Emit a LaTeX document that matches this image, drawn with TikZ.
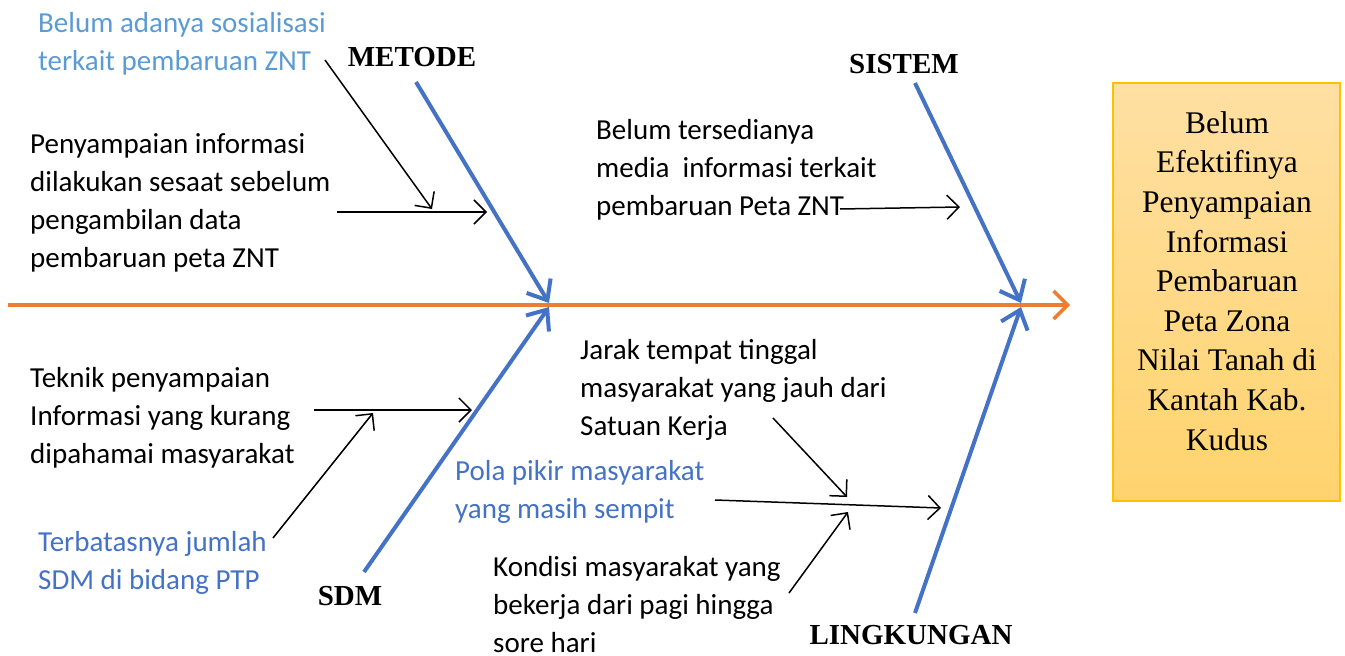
\documentclass[tikz,border=0pt]{standalone}
\usepackage{fontspec}
\setmainfont{Liberation Serif}
\newfontfamily\calfont{Carlito}
\usetikzlibrary{arrows.meta}
\definecolor{spine}{HTML}{ED7D31}
\definecolor{bone}{HTML}{4472C4}
\definecolor{lblue}{HTML}{5B9BD5}
\definecolor{boxtop}{HTML}{FFE0A3}
\definecolor{boxbot}{HTML}{FFD36E}
\definecolor{boxline}{HTML}{FFC000}
\tikzset{
  cause/.style={anchor=base west, align=left, inner sep=0pt, font=\calfont\fontsize{29}{38}\selectfont},
  cat/.style={anchor=base, inner sep=0pt, font=\fontsize{29}{34}\selectfont\bfseries},
  bonel/.style={draw=bone, line width=4pt, -{Straight Barb[length=17pt,width=28pt,line width=4pt]}},
  subarr/.style={draw=black, line width=1.5pt, -{Straight Barb[length=12pt,width=24pt,line width=1.5pt]}},
  spinel/.style={draw=spine, line width=3.5pt, -{Straight Barb[length=14pt,width=28pt,line width=3.5pt]}}
}
\begin{document}
\begin{tikzpicture}[x=1pt,y=-1pt]
\useasboundingbox (0,0) rectangle (1345,656);
% head box
\node[draw=boxline, line width=1.5pt, top color=boxtop, bottom color=boxbot, minimum width=227pt, minimum height=418pt, inner sep=0pt] (head) at (1226.5,292) {};
\node[anchor=base, align=center, inner sep=0pt, font=\fontsize{31.5}{39.6}\selectfont] (headtxt) at (1227,450) {Belum\\Efektifinya\\Penyampaian\\Informasi\\Pembaruan\\Peta Zona\\Nilai Tanah di\\Kantah Kab.\\Kudus};
% spine
\coordinate (tail) at (8,305);
\coordinate (tip) at (1070,305);
\draw[spinel] (tail) -- (tip);
% bones
\coordinate (jm) at (549,303);
\coordinate (js) at (549,307);
\coordinate (jsi) at (1021,303);
\coordinate (jl) at (1021,307);
\coordinate (bm) at (416,82);
\coordinate (bs) at (364,572);
\coordinate (bsi) at (915,83);
\coordinate (bl) at (915,613);
\draw[bonel] (bm) -- (jm);
\draw[bonel] (bs) -- (js);
\draw[bonel] (bsi) -- (jsi);
\draw[bonel] (bl) -- (jl);
% category labels
\node[cat] (metode) at (412,66) {METODE};
\node[cat] (sistem) at (904,73) {SISTEM};
\node[cat] (sdm) at (350,605) {SDM};
\node[cat] (ling) at (911,644) {LINGKUNGAN};
% cause texts (anchored at the baseline of the last line)
\node[cause, text=lblue] (c1) at (38,70) {Belum adanya sosialisasi\\terkait pembaruan ZNT};
\node[cause] (c2) at (30,267) {Penyampaian informasi\\dilakukan sesaat sebelum\\pengambilan data\\pembaruan peta ZNT};
\node[cause] (c3) at (596,215) {Belum tersedianya\\media\ \ informasi terkait\\pembaruan Peta ZNT};
\node[cause] (c4) at (30,463) {Teknik penyampaian\\Informasi yang kurang\\dipahamai masyarakat};
\node[cause, text=bone] (c5) at (38,589) {Terbatasnya jumlah\\SDM di bidang PTP};
\node[cause] (c6) at (580,435) {Jarak tempat tinggal\\masyarakat yang jauh dari\\Satuan Kerja};
\node[cause, text=bone] (c7) at (455,518) {Pola pikir masyarakat\\yang masih sempit};
\node[cause] (c8) at (493,652) {Kondisi masyarakat yang\\bekerja dari pagi hingga\\sore hari};
% cause arrows
\coordinate (a1s) at (325,60);  \coordinate (a1e) at (432,209);
\coordinate (a2s) at (337,212); \coordinate (a2e) at (487,212);
\coordinate (a3s) at (840,209); \coordinate (a3e) at (960,207);
\coordinate (a4s) at (314,410); \coordinate (a4e) at (472,410);
\coordinate (a5s) at (273,538); \coordinate (a5e) at (373,413);
\coordinate (a6s) at (773,418); \coordinate (a6e) at (847,497);
\coordinate (a7s) at (715,500); \coordinate (a7e) at (941,508);
\coordinate (a8s) at (789,593); \coordinate (a8e) at (848,512);
\draw[subarr] (a1s) -- (a1e);
\draw[subarr] (a2s) -- (a2e);
\draw[subarr] (a3s) -- (a3e);
\draw[subarr] (a4s) -- (a4e);
\draw[subarr] (a5s) -- (a5e);
\draw[subarr] (a6s) -- (a6e);
\draw[subarr] (a7s) -- (a7e);
\draw[subarr] (a8s) -- (a8e);
\end{tikzpicture}
\end{document}
